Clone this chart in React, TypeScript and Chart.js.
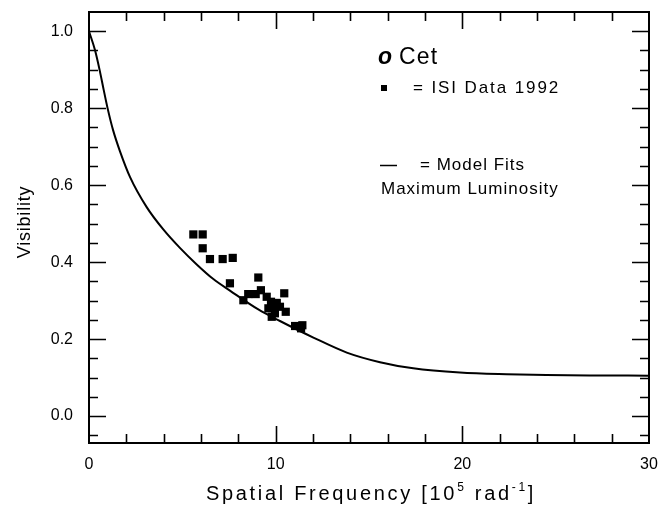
import { useEffect, useRef } from 'react';
import { Chart, registerables } from 'chart.js';
Chart.register(...registerables);

const FONT = '"Liberation Sans", Arial, sans-serif';

// ISI Data 1992 (spatial frequency [1e5 rad^-1], visibility)
const dataX = [5.59, 6.09, 6.09, 6.48, 7.16, 7.70, 7.55, 9.07, 8.27, 8.53, 8.93, 9.21, 9.52, 10.46, 9.75, 10.06, 9.61, 9.93, 10.23, 10.54, 9.79, 9.96, 11.04, 11.43, 11.36];
const dataY = [0.472, 0.472, 0.436, 0.408, 0.408, 0.411, 0.345, 0.360, 0.301, 0.317, 0.317, 0.327, 0.310, 0.319, 0.297, 0.294, 0.280, 0.284, 0.284, 0.271, 0.258, 0.267, 0.234, 0.236, 0.228];

// Model fit (maximum luminosity)
const modelX = [0, 0.32, 0.57, 0.79, 1.01, 1.29, 1.66, 2.20, 3.09, 3.98, 4.87, 5.77, 6.66, 7.55, 9.07, 10.23, 12.02, 13.81, 15.59, 17.37, 19.87, 22.37, 24.5, 27, 30];
const modelY = [1.0, 0.951, 0.899, 0.847, 0.797, 0.743, 0.688, 0.621, 0.543, 0.485, 0.437, 0.394, 0.356, 0.326, 0.277, 0.247, 0.204, 0.165, 0.140, 0.124, 0.113, 0.1085, 0.1065, 0.1055, 0.105];

const xTickValues = [0, 10, 20, 30];
const yTickValues = [0, 0.2, 0.4, 0.6, 0.8, 1.0];

const framePlugin = {
  id: 'frameTicks',
  afterDraw(chart: any) {
    const { ctx, chartArea: a, scales } = chart;
    const xs = scales.x, ys = scales.y;
    ctx.save();
    ctx.strokeStyle = '#000';
    ctx.lineWidth = 2;
    ctx.strokeRect(a.left, a.top, a.right - a.left, a.bottom - a.top);
    ctx.lineWidth = 1.6;
    ctx.beginPath();
    for (let k = -1; k <= 20; k++) {
      const v = k * 0.05;
      const p = Math.round(ys.getPixelForValue(v)) + 0.5;
      if (p < a.top || p > a.bottom) continue;
      const len = k % 4 === 0 ? 17 : 9;
      ctx.moveTo(a.left, p); ctx.lineTo(a.left + len, p);
      ctx.moveTo(a.right, p); ctx.lineTo(a.right - len, p);
    }
    for (let k = 1; k < 15; k++) {
      const v = k * 2;
      const p = Math.round(xs.getPixelForValue(v)) + 0.5;
      const len = v % 10 === 0 ? 17 : 9;
      ctx.moveTo(p, a.bottom); ctx.lineTo(p, a.bottom - len);
      ctx.moveTo(p, a.top); ctx.lineTo(p, a.top + len);
    }
    ctx.stroke();

    // axis titles
    ctx.fillStyle = '#000';
    ctx.textBaseline = 'alphabetic';
    ctx.save();
    ctx.translate(30, 222);
    ctx.rotate(-Math.PI / 2);
    ctx.textAlign = 'center';
    ctx.font = `18px ${FONT}`;
    (ctx as any).letterSpacing = '0.8px';
    ctx.fillText('Visibility', 0, 0);
    ctx.restore();

    const parts: [string, boolean][] = [
      ['Spatial Frequency [10', false], ['5', true], [' rad', false], ['-1', true], [']', false],
    ];
    const main = `20px ${FONT}`, sup = `12px ${FONT}`;
    (ctx as any).letterSpacing = '2.7px';
    let total = 0;
    for (const [t, s] of parts) { ctx.font = s ? sup : main; total += ctx.measureText(t).width; }
    let x = 371 - total / 2;
    ctx.textAlign = 'left';
    for (const [t, s] of parts) {
      ctx.font = s ? sup : main;
      ctx.fillText(t, x, s ? 491 : 500);
      x += ctx.measureText(t).width;
    }

    // legend text
    ctx.textBaseline = 'middle';
    (ctx as any).letterSpacing = '0px';
    ctx.font = `italic bold 23px ${FONT}`;
    ctx.fillText('o', 378, 58);
    ctx.font = `23px ${FONT}`;
    (ctx as any).letterSpacing = '1.2px';
    ctx.fillText('Cet', 399, 58);
    ctx.fillRect(381, 85, 6, 6);
    ctx.font = `17px ${FONT}`;
    (ctx as any).letterSpacing = '1.9px';
    ctx.fillText('= ISI Data 1992', 413, 88);
    ctx.lineWidth = 1.5;
    ctx.beginPath();
    ctx.moveTo(380, 165.5); ctx.lineTo(397, 165.5);
    ctx.stroke();
    (ctx as any).letterSpacing = '1px';
    ctx.fillText('= Model Fits', 420, 165);
    ctx.fillText('Maximum Luminosity', 381, 189);
    ctx.restore();
  },
};

const zeroPad = (s: any) => {
  s.paddingTop = 0; s.paddingBottom = 0; s.paddingLeft = 0; s.paddingRight = 0;
};

export default function App() {
  const ref = useRef<HTMLCanvasElement>(null);
  useEffect(() => {
    if (!ref.current) return;
    const chart = new Chart(ref.current, {
      type: 'scatter',
      data: {
        datasets: [
          {
            label: 'Model Fits',
            data: modelX.map((x, i) => ({ x, y: modelY[i] })),
            showLine: true,
            borderColor: '#000',
            borderWidth: 2,
            pointRadius: 0,
            cubicInterpolationMode: 'monotone',
            fill: false,
          } as any,
          {
            label: 'ISI Data 1992',
            data: dataX.map((x, i) => ({ x, y: dataY[i] })),
            pointStyle: 'rect',
            pointRadius: 5.8,
            backgroundColor: '#000',
            borderColor: '#000',
            borderWidth: 0,
            showLine: false,
          },
        ],
      },
      options: {
        responsive: false,
        animation: false,
        devicePixelRatio: 1,
        layout: { padding: { top: 12, right: 9, left: 0, bottom: 0 } },
        plugins: { legend: { display: false }, tooltip: { enabled: false } },
        scales: {
          x: {
            type: 'linear',
            min: 0,
            max: 30,
            afterBuildTicks: (s: any) => { s.ticks = xTickValues.map((v) => ({ value: v })); },
            afterFit: (s: any) => { s.height = 64; zeroPad(s); },
            grid: { display: false, drawTicks: false },
            border: { display: false },
            ticks: { padding: 12, color: '#000', font: { family: FONT, size: 16 }, maxRotation: 0, autoSkip: false },
          },
          y: {
            type: 'linear',
            min: -0.07,
            max: 1.05,
            afterBuildTicks: (s: any) => { s.ticks = yTickValues.map((v) => ({ value: v })); },
            afterFit: (s: any) => { s.width = 89; zeroPad(s); },
            grid: { display: false, drawTicks: false },
            border: { display: false },
            ticks: {
              padding: 16,
              color: '#000',
              font: { family: FONT, size: 16 },
              autoSkip: false,
              callback: (v: any) => Number(v).toFixed(1),
            },
          },
        },
      },
      plugins: [framePlugin],
    });
    return () => chart.destroy();
  }, []);
  return (
    <div style={{ position: 'fixed', left: 0, top: 0, width: 658, height: 507, background: '#fff' }}>
      <canvas ref={ref} width={658} height={507} style={{ display: 'block' }} />
    </div>
  );
}
